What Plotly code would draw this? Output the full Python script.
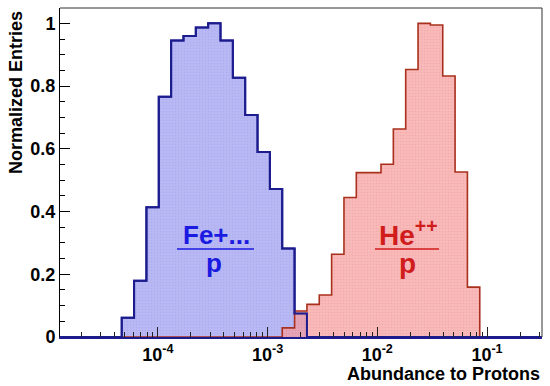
import plotly.graph_objects as go

# ---- data ----
bin_lo_exp = -4.891      # log10 of lower edge of first bin
bin_width_dex = 0.1125   # bin width in decades
n_bins = 39

blue_values = [0, 0, 0, 0, 0, 0.061, 0.179, 0.414, 0.766, 0.945, 0.960, 0.987, 1.0,
               0.945, 0.827, 0.708, 0.590, 0.472, 0.282, 0.075] + [0] * 19
red_values = [0] * 18 + [0.029, 0.083, 0.104, 0.134, 0.264, 0.445, 0.524, 0.524, 0.551,
                         0.663, 0.853, 1.0, 0.995, 0.832, 0.526, 0.159] + [0] * 5

major_ticks = [1e-4, 1e-3, 1e-2, 1e-1]
major_labels = ["10<sup>-4</sup>", "10<sup>-3</sup>", "10<sup>-2</sup>", "10<sup>-1</sup>"]
y_ticks = [0, 0.2, 0.4, 0.6, 0.8, 1]
y_labels = ["0", "0.2", "0.4", "0.6", "0.8", "1"]

edges = [10 ** (bin_lo_exp + i * bin_width_dex) for i in range(n_bins + 1)]
minor_ticks = [m * 10 ** e for e in range(-5, 0) for m in range(2, 10)]


def step(values):
    xs = [edges[0], edges[0]] + edges[1:n_bins] + [edges[n_bins], edges[n_bins]]
    ys = [0, values[0]] + list(values[1:]) + [values[-1], 0]
    return xs, ys


# layout geometry (pixels)
W, H = 550, 386
L, R, T, B = 60, 8, 8, 49
pw, ph = W - L - R, H - T - B


def px(x):
    return (x - L) / pw


def py(y):
    return (H - B - y) / ph


BLUE_LINE = "#1c1c8e"
RED_LINE = "#a8301c"
FONT = "Liberation Sans"

fig = go.Figure()
bx, by = step(blue_values)
rx, ry = step(red_values)

fig.add_trace(go.Scatter(x=bx, y=by, mode="lines", line=dict(color=BLUE_LINE, width=2, shape="hv"),
                         fill="tozeroy", fillcolor="rgba(180,180,243,1)",
                         fillpattern=dict(shape=".", fgcolor="rgba(130,130,215,0.5)", bgcolor="rgba(184,184,245,1)",
                                          size=3, solidity=0.2),
                         hoverinfo="skip", showlegend=False))
fig.add_trace(go.Scatter(x=rx, y=ry, mode="lines", line=dict(color=RED_LINE, width=1.6, shape="hv"),
                         fill="tozeroy", fillcolor="rgba(246,150,150,0.7)",
                         fillpattern=dict(shape=".", fgcolor="rgba(225,120,120,0.5)", bgcolor="rgba(247,155,155,0.7)",
                                          size=3, solidity=0.2),
                         hoverinfo="skip", showlegend=False))
fig.add_trace(go.Scatter(x=bx, y=by, mode="lines", line=dict(color=BLUE_LINE, width=2, shape="hv"),
                         hoverinfo="skip", showlegend=False))

fig.update_layout(
    width=W, height=H,
    margin=dict(l=L, r=R, t=T, b=B, autoexpand=False),
    paper_bgcolor="white", plot_bgcolor="white",
    font=dict(family=FONT, color="black"),
    xaxis=dict(type="log", range=[-4.891, -0.499], showgrid=False, zeroline=False,
               showline=True, linecolor=BLUE_LINE, linewidth=2,
               tickmode="array", tickvals=major_ticks, ticktext=major_labels,
               ticks="inside", ticklen=10, tickcolor="#222", tickwidth=1,
               tickfont=dict(family=FONT, size=18, weight="bold"),
               minor=dict(tickmode="array", tickvals=minor_ticks, ticks="inside", ticklen=5,
                          tickcolor="#222", tickwidth=1)),
    yaxis=dict(range=[0, 1.049], showgrid=False, zeroline=False,
               showline=True, linecolor="black", linewidth=1,
               tickmode="array", tickvals=y_ticks, ticktext=y_labels,
               ticks="inside", ticklen=10, tickcolor="black",
               tickfont=dict(family=FONT, size=18, weight="bold"),
               minor=dict(dtick=0.05, ticks="inside", ticklen=5, tickcolor="black")),
)

# frame (top and right)
fig.add_shape(type="line", xref="paper", yref="paper", x0=0, x1=1, y0=1, y1=1,
              line=dict(color="#333", width=1))
fig.add_shape(type="line", xref="paper", yref="paper", x0=1, x1=1, y0=0, y1=1,
              line=dict(color="#333", width=1))

# axis titles
fig.add_annotation(text="<b>Abundance to Protons</b>", xref="paper", yref="paper",
                   x=px(542), y=py(374), xanchor="right", yanchor="middle", showarrow=False,
                   font=dict(family=FONT, size=18, color="black"))
fig.add_annotation(text="<b>Normalized Entries</b>", xref="paper", yref="paper",
                   x=px(16), y=py(93), xanchor="center", yanchor="middle", textangle=-90,
                   showarrow=False, font=dict(family=FONT, size=18, color="black"))

# in-plot labels
FE_C = "#1a1ae0"
HE_C = "#d01c1c"
fig.add_annotation(text="<b>Fe+...</b>", xref="paper", yref="paper", x=px(216), y=py(235),
                   xanchor="center", yanchor="middle", showarrow=False,
                   font=dict(family=FONT, size=26, color=FE_C))
fig.add_annotation(text="<b>p</b>", xref="paper", yref="paper", x=px(214), y=py(263),
                   xanchor="center", yanchor="middle", showarrow=False,
                   font=dict(family=FONT, size=26, color=FE_C))
fig.add_shape(type="line", xref="paper", yref="paper", x0=px(177), x1=px(254), y0=py(249), y1=py(249),
              line=dict(color=FE_C, width=1.5))

fig.add_annotation(text="<b>He<sup>++</sup></b>", xref="paper", yref="paper", x=px(408), y=py(233),
                   xanchor="center", yanchor="middle", showarrow=False,
                   font=dict(family=FONT, size=28, color=HE_C))
fig.add_annotation(text="<b>p</b>", xref="paper", yref="paper", x=px(407), y=py(263),
                   xanchor="center", yanchor="middle", showarrow=False,
                   font=dict(family=FONT, size=28, color=HE_C))
fig.add_shape(type="line", xref="paper", yref="paper", x0=px(375), x1=px(439), y0=py(249), y1=py(249),
              line=dict(color=HE_C, width=1.5))

fig.write_html("out.html", config={"displayModeBar": False},
               post_script="document.body.style.margin='0';")
